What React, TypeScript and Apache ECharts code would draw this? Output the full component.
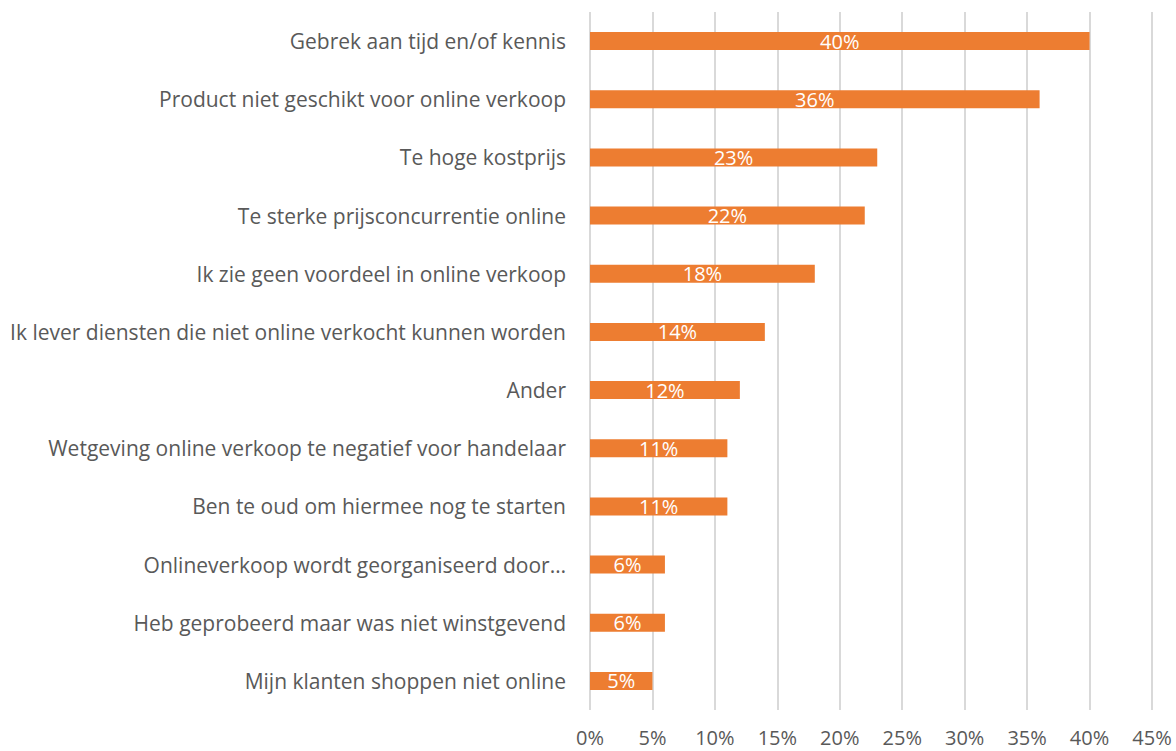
import React, { useEffect, useRef } from "react";
import * as echarts from "echarts";

// Reasons for not selling online, share of respondents (%)
const categories: string[] = [
  "Gebrek aan tijd en/of kennis",
  "Product niet geschikt voor online verkoop",
  "Te hoge kostprijs",
  "Te sterke prijsconcurrentie online",
  "Ik zie geen voordeel in online verkoop",
  "Ik lever diensten die niet online verkocht kunnen worden",
  "Ander",
  "Wetgeving online verkoop te negatief voor handelaar",
  "Ben te oud om hiermee nog te starten",
  "Onlineverkoop wordt georganiseerd door…",
  "Heb geprobeerd maar was niet winstgevend",
  "Mijn klanten shoppen niet online",
];

const values: number[] = [40, 36, 23, 22, 18, 14, 12, 11, 11, 6, 6, 5];

const axisMax = 45;
const axisStep = 5;

const FONT = "'Open Sans', 'Noto Sans', sans-serif";

export default function App() {
  const ref = useRef<HTMLDivElement>(null);

  useEffect(() => {
    if (!ref.current) return;
    const chart = echarts.init(ref.current, undefined, { renderer: "svg" });
    chart.setOption({
      animation: false,
      backgroundColor: "#ffffff",
      grid: { left: 590, right: 24, top: 12, bottom: 41, containLabel: false },
      xAxis: {
        type: "value",
        min: 0,
        max: axisMax,
        interval: axisStep,
        axisLine: { show: false },
        axisTick: { show: false },
        splitLine: { show: true, lineStyle: { color: "#D9D9D9", width: 2 } },
        axisLabel: {
          formatter: (v: number) => `${v}%`,
          color: "#595959",
          fontSize: 20,
          fontFamily: FONT,
          margin: 17,
        },
      },
      yAxis: {
        type: "category",
        data: categories,
        inverse: true,
        axisLine: { show: false },
        axisTick: { show: false },
        axisLabel: {
          color: "#595959",
          fontSize: 21,
          fontFamily: FONT,
          margin: 24,
        },
      },
      series: [
        {
          type: "bar",
          data: values,
          barWidth: 18,
          itemStyle: { color: "#ED7D31" },
          label: {
            show: true,
            position: "inside",
            formatter: (p: any) => `${p.value}%`,
            color: "#ffffff",
            fontSize: 20,
            fontFamily: FONT,
          },
        },
      ],
    });
    return () => chart.dispose();
  }, []);

  return (
    <div
      ref={ref}
      style={{ position: "fixed", left: 0, top: 0, width: 1176, height: 751 }}
    />
  );
}
